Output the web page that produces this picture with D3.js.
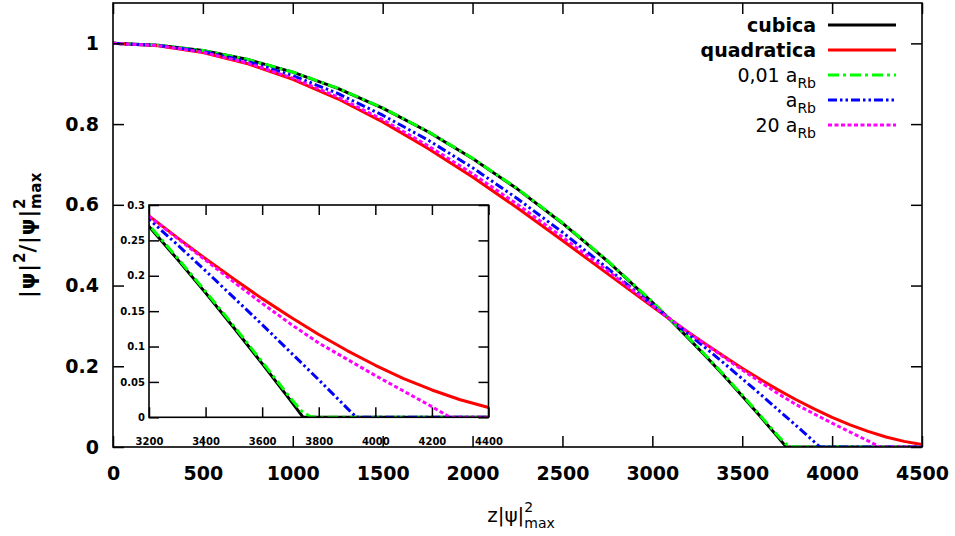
<!DOCTYPE html>
<html>
<head>
<meta charset="utf-8">
<script src="https://cdn.jsdelivr.net/npm/d3@7"></script>
<style>
  body { margin: 0; background: #fff; }
  svg { display: block; }
  text { font-family: "DejaVu Sans", sans-serif; }
</style>
</head>
<body>
<svg id="chart" width="955" height="536"></svg>
<script>
// values: [z|psi|^2max, |psi|^2/|psi|^2max]
var cubica = [[0,1],[250,0.9955],[500,0.9822],[750,0.9599],[1000,0.9287],[1250,0.8886],[1500,0.8396],
  [1750,0.7816],[2000,0.7148],[2250,0.6390],[2500,0.5544],[2750,0.4608],[3000,0.3583],[3100,0.3148],
  [3200,0.2698],[3300,0.2235],[3400,0.1758],[3500,0.1266],[3600,0.0759],[3700,0.0239],[3745,0],[4500,0]];
var quadratica = [[0,1],[250,0.9943],[500,0.9773],[750,0.9494],[1000,0.9110],[1250,0.8627],[1500,0.8055],
  [1750,0.7404],[2000,0.6687],[2250,0.5919],[2500,0.5116],[2750,0.4296],[3000,0.3481],[3100,0.3160],
  [3200,0.2846],[3300,0.2539],[3400,0.2240],[3500,0.1953],[3600,0.1677],[3700,0.1416],[3800,0.1170],
  [3900,0.0943],[4000,0.0735],[4100,0.0548],[4200,0.0386],[4300,0.0248],[4400,0.0139],[4500,0.0060]];
var rb001 = [[0,1],[250,0.9955],[500,0.9823],[750,0.9601],[1000,0.9290],[1250,0.8890],[1500,0.8401],
  [1750,0.7822],[2000,0.7155],[2250,0.6398],[2500,0.5554],[2750,0.4619],[3000,0.3596],[3100,0.3160],
  [3200,0.2715],[3300,0.2255],[3400,0.1778],[3500,0.1288],[3600,0.0783],[3700,0.0272],[3740,0.0085],
  [3770,0.0012],[3790,0],[4500,0]];
var rb1 = [[0,1],[250,0.995],[500,0.980],[750,0.955],[1000,0.920],[1250,0.876],[1500,0.822],
  [1750,0.761],[2000,0.692],[2250,0.615],[2500,0.532],[2750,0.443],[3000,0.352],[3100,0.316],
  [3200,0.280],[3300,0.244],[3400,0.207],[3500,0.169],[3600,0.131],[3700,0.092],[3800,0.053],
  [3900,0.013],[3933,0],[4500,0]];
var rb20 = [[0,1],[250,0.9946],[500,0.978],[750,0.951],[1000,0.914],[1250,0.867],[1500,0.811],
  [1750,0.747],[2000,0.677],[2250,0.601],[2500,0.520],[2750,0.437],[3000,0.351],[3100,0.317],
  [3200,0.284],[3300,0.253],[3400,0.222],[3500,0.191],[3600,0.161],[3700,0.132],[3800,0.105],
  [3900,0.082],[4000,0.059],[4100,0.037],[4200,0.015],[4265,0],[4500,0]];

var xTicks = [0,500,1000,1500,2000,2500,3000,3500,4000,4500];
var yTicks = [0,0.2,0.4,0.6,0.8,1];
var yTickLabels = ["0","0.2","0.4","0.6","0.8","1"];
var insetXTicks = [3200,3400,3600,3800,4000,4200,4400];
var insetYTicks = [0,0.05,0.1,0.15,0.2,0.25,0.3];
var insetYTickLabels = ["0","0.05","0.1","0.15","0.2","0.25","0.3"];

var series = [
  {data: cubica,     label: "cubica",     sub: "",   bold: true,  color: "#000000", dash: null},
  {data: quadratica, label: "quadratica", sub: "",   bold: true,  color: "#ff0000", dash: null},
  {data: rb001,      label: "0,01 a",     sub: "Rb", bold: false, color: "#00ff00", dash: "11,4,3,4"},
  {data: rb1,        label: "a",          sub: "Rb", bold: false, color: "#0000ff", dash: "9,3,2.5,3,2.5,3"},
  {data: rb20,       label: "20 a",       sub: "Rb", bold: false, color: "#ff00ff", dash: "4,2.5"}
];

var svg = d3.select("#chart");

// text made of pieces (sub/superscripts), laid out left to right
function richText(g, pieces) {
  var cx = 0, lastStart = 0, lastEnd = 0;
  pieces.forEach(function(p) {
    var start = p.stack ? lastStart : cx;
    var t = g.append("text")
      .attr("x", start).attr("y", p.dy || 0)
      .attr("font-size", p.size)
      .attr("font-weight", p.weight || "normal")
      .attr("letter-spacing", p.ls || 0)
      .text(p.t);
    var w = t.node().getComputedTextLength();
    if (p.stack) {
      cx = Math.max(lastEnd, start + w);
    } else {
      lastStart = start;
      lastEnd = start + w;
      cx = start + w;
    }
  });
  return cx;
}

function drawPanel(opts) {
  var x = d3.scaleLinear().domain(opts.xDomain).range([opts.left, opts.right]);
  var y = d3.scaleLinear().domain(opts.yDomain).range([opts.bottom, opts.top]);
  var g = svg.append("g");

  g.append("rect")
    .attr("x", opts.left).attr("y", opts.top)
    .attr("width", opts.right - opts.left).attr("height", opts.bottom - opts.top)
    .attr("fill", "#fff");

  var clipId = "clip-" + opts.name;
  g.append("clipPath").attr("id", clipId).append("rect")
    .attr("x", opts.left).attr("y", opts.top - 2)
    .attr("width", opts.right - opts.left).attr("height", opts.bottom - opts.top + 2);

  var line = d3.line().x(function(d) { return x(d[0]); }).y(function(d) { return y(d[1]); });
  var curves = g.append("g").attr("clip-path", "url(#" + clipId + ")");
  series.forEach(function(s) {
    curves.append("path")
      .attr("d", line(s.data))
      .attr("fill", "none")
      .attr("stroke", s.color)
      .attr("stroke-width", opts.lw)
      .attr("stroke-linejoin", "round")
      .attr("stroke-dasharray", s.dash);
  });

  var ts = opts.tick;
  var axB = g.append("g").attr("transform", "translate(0," + opts.bottom + ")")
    .call(d3.axisBottom(x).tickValues(opts.xTicks).tickSize(-ts).tickPadding(opts.xPad)
      .tickFormat(function(d) { return String(d); }));
  var axL = g.append("g").attr("transform", "translate(" + opts.left + ",0)")
    .call(d3.axisLeft(y).tickValues(opts.yTicks).tickSize(-ts).tickPadding(opts.yPad)
      .tickFormat(function(d, i) { return opts.yLabels[i]; }));
  var axT = g.append("g").attr("transform", "translate(0," + opts.top + ")")
    .call(d3.axisTop(x).tickValues(opts.xTicks).tickSize(-ts).tickFormat(""));
  var axR = g.append("g").attr("transform", "translate(" + opts.right + ",0)")
    .call(d3.axisRight(y).tickValues(opts.yTicks).tickSize(-ts).tickFormat(""));

  [axB, axL, axT, axR].forEach(function(a) {
    a.select(".domain").remove();
    a.selectAll(".tick line").attr("stroke", "#000").attr("stroke-width", 1.5);
    a.selectAll(".tick text")
      .attr("fill", "#000")
      .attr("font-family", "DejaVu Sans, sans-serif")
      .attr("font-weight", "bold")
      .attr("font-size", opts.fontSize);
  });

  g.append("rect")
    .attr("x", opts.left).attr("y", opts.top)
    .attr("width", opts.right - opts.left).attr("height", opts.bottom - opts.top)
    .attr("fill", "none").attr("stroke", "#000").attr("stroke-width", 1.6);
}

// main chart
drawPanel({
  name: "main", left: 113, right: 922, top: 3, bottom: 447,
  xDomain: [0, 4500], yDomain: [0, 1.1],
  xTicks: xTicks, yTicks: yTicks, yLabels: yTickLabels,
  tick: 11, xPad: 20, yPad: 14, fontSize: 19, lw: 3
});

// inset
drawPanel({
  name: "inset", left: 149, right: 488.5, top: 205, bottom: 417.3,
  xDomain: [3200, 4400], yDomain: [0, 0.3],
  xTicks: insetXTicks, yTicks: insetYTicks, yLabels: insetYTickLabels,
  tick: 10, xPad: 20.5, yPad: 4, fontSize: 10, lw: 3
});

// legend
var leg = svg.append("g");
series.forEach(function(s, i) {
  var yy = 25 + i * 25;
  var tg = leg.append("g");
  var pieces = [{t: s.label, size: 19, dy: 0, weight: s.bold ? "bold" : "normal"}];
  if (s.sub) pieces.push({t: s.sub, size: 14, dy: 6, weight: "normal"});
  var w = richText(tg, pieces);
  tg.attr("transform", "translate(" + (816 - w) + "," + (yy + 7) + ")");
  leg.append("line")
    .attr("x1", 828).attr("x2", 896).attr("y1", yy).attr("y2", yy)
    .attr("stroke", s.color).attr("stroke-width", 2.8)
    .attr("stroke-dasharray", s.dash);
});

// axis titles
var xl = svg.append("g");
var xw = richText(xl, [
  {t: "z|\u03c8|", size: 20},
  {t: "2", size: 14, dy: -10},
  {t: "max", size: 14, dy: 6, stack: true}
]);
xl.attr("transform", "translate(" + (521 - xw / 2) + ",522)");

var yl = svg.append("g");
var yw = richText(yl, [
  {t: "|\u03c8|", size: 21, weight: "bold", ls: 1},
  {t: "2", size: 15, dy: -10, weight: "bold"},
  {t: "/|\u03c8|", size: 21, weight: "bold", ls: 1},
  {t: "2", size: 15, dy: -10, weight: "bold"},
  {t: "max", size: 15, dy: 6, weight: "bold", stack: true, ls: 0.5}
]);
yl.attr("transform", "translate(35," + (235 + yw / 2) + ") rotate(-90)");
</script>
</body>
</html>
